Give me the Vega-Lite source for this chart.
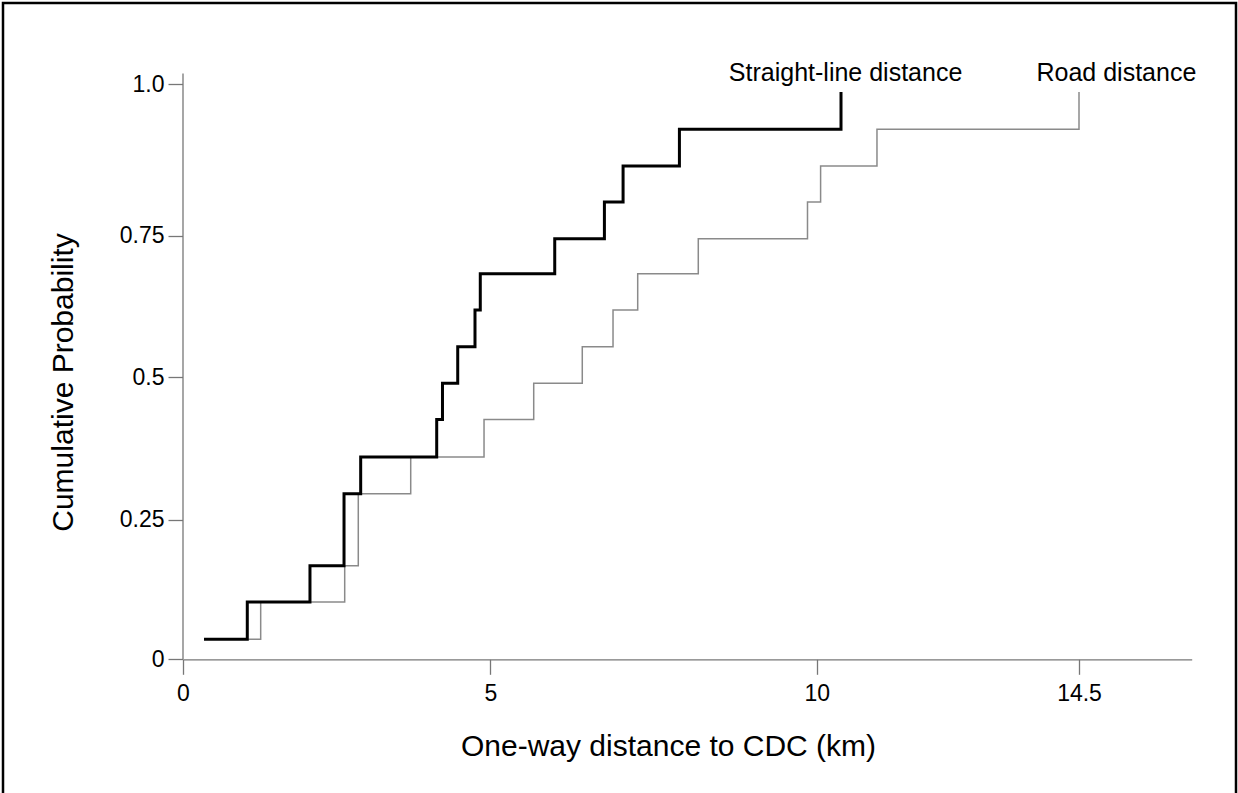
{
  "$schema": "https://vega.github.io/schema/vega-lite/v6.json",
  "width": 1233,
  "height": 800,
  "autosize": {"type": "none"},
  "padding": {"left": 3, "top": 3, "right": 2, "bottom": -10},
  "background": "white",
  "config": {
    "view": {"stroke": "#000", "strokeWidth": 2.5, "fill": "white"},
    "font": "Liberation Sans"
  },
  "data": {
    "values": [
      {"series": "Straight-line distance", "km": 0.342, "p": 0.0358},
      {"series": "Straight-line distance", "km": 1.046, "p": 0.1025},
      {"series": "Straight-line distance", "km": 2.066, "p": 0.1674},
      {"series": "Straight-line distance", "km": 2.620, "p": 0.2954},
      {"series": "Straight-line distance", "km": 2.891, "p": 0.3599},
      {"series": "Straight-line distance", "km": 4.128, "p": 0.4258},
      {"series": "Straight-line distance", "km": 4.222, "p": 0.4895},
      {"series": "Straight-line distance", "km": 4.470, "p": 0.5540},
      {"series": "Straight-line distance", "km": 4.751, "p": 0.6187},
      {"series": "Straight-line distance", "km": 4.837, "p": 0.6827},
      {"series": "Straight-line distance", "km": 5.987, "p": 0.7444},
      {"series": "Straight-line distance", "km": 6.748, "p": 0.8054},
      {"series": "Straight-line distance", "km": 7.034, "p": 0.8649},
      {"series": "Straight-line distance", "km": 7.897, "p": 0.9256},
      {"series": "Straight-line distance", "km": 10.417, "p": 0.9873},
      {"series": "Road distance", "km": 0.342, "p": 0.0358},
      {"series": "Road distance", "km": 1.264, "p": 0.1025},
      {"series": "Road distance", "km": 2.631, "p": 0.1674},
      {"series": "Road distance", "km": 2.852, "p": 0.2954},
      {"series": "Road distance", "km": 3.705, "p": 0.3599},
      {"series": "Road distance", "km": 4.898, "p": 0.4258},
      {"series": "Road distance", "km": 5.665, "p": 0.4895},
      {"series": "Road distance", "km": 6.409, "p": 0.5540},
      {"series": "Road distance", "km": 6.880, "p": 0.6187},
      {"series": "Road distance", "km": 7.258, "p": 0.6827},
      {"series": "Road distance", "km": 8.186, "p": 0.7444},
      {"series": "Road distance", "km": 9.859, "p": 0.8054},
      {"series": "Road distance", "km": 10.067, "p": 0.8649},
      {"series": "Road distance", "km": 11.034, "p": 0.9256},
      {"series": "Road distance", "km": 14.5, "p": 0.9873}
    ]
  },
  "encoding": {
    "x": {
      "field": "km",
      "type": "quantitative",
      "scale": {
        "domain": [0, 5, 10, 14.5, 16.44],
        "range": [180, 487.3, 813.7, 1076, 1188.7],
        "nice": false,
        "zero": false
      },
      "axis": {
        "title": "One-way distance to CDC (km)",
        "orient": "bottom",
        "offset": -143.7,
        "values": [0, 5, 10, 14.5],
        "labelExpr": "datum.value == 14.5 ? '14.5' : '' + round(datum.value)",
        "grid": false,
        "domainColor": "#777",
        "domainWidth": 1.3,
        "tickColor": "#777",
        "tickWidth": 1.3,
        "tickSize": 15,
        "labelPadding": 8,
        "labelFontSize": 23,
        "labelColor": "#000",
        "labelFont": "Liberation Sans",
        "labelFlush": false,
        "labelOverlap": false,
        "titleFont": "Liberation Sans",
        "titleFontSize": 30,
        "titleFontWeight": "normal",
        "titleColor": "#000",
        "titleX": 665,
        "titleY": 96.2,
        "titleBaseline": "alphabetic",
        "titleAlign": "center"
      }
    },
    "y": {
      "field": "p",
      "type": "quantitative",
      "scale": {
        "domain": [0, 0.25, 0.5, 0.75, 1, 1.0187],
        "range": [656.3, 516.5, 374.3, 232.5, 81.3, 70],
        "nice": false,
        "zero": false
      },
      "axis": {
        "title": "Cumulative Probability",
        "orient": "left",
        "offset": -179.5,
        "values": [0, 0.25, 0.5, 0.75, 1],
        "labelExpr": "datum.value == 1 ? '1.0' : datum.value == 0 ? '0' : datum.value == 0.25 ? '0.25' : datum.value == 0.5 ? '0.5' : '0.75'",
        "grid": false,
        "domainColor": "#777",
        "domainWidth": 1.3,
        "tickColor": "#777",
        "tickWidth": 1.3,
        "tickSize": 14.5,
        "labelPadding": 4,
        "labelFontSize": 23,
        "labelColor": "#000",
        "labelFont": "Liberation Sans",
        "labelFlush": false,
        "labelOverlap": false,
        "titleFont": "Liberation Sans",
        "titleFontSize": 30,
        "titleFontWeight": "normal",
        "titleColor": "#000",
        "titleX": -110,
        "titleY": 379,
        "titleAngle": -90,
        "titleBaseline": "alphabetic",
        "titleAlign": "center"
      }
    }
  },
  "layer": [
    {
      "transform": [{"filter": "datum.series == 'Road distance'"}],
      "mark": {"type": "line", "interpolate": "step-after", "stroke": "#8a8a8a", "strokeWidth": 1.5}
    },
    {
      "transform": [{"filter": "datum.series == 'Straight-line distance'"}],
      "mark": {"type": "line", "interpolate": "step-after", "stroke": "#000", "strokeWidth": 3}
    },
    {
      "transform": [{"filter": "datum.series == 'Straight-line distance' && datum.p > 0.98"}],
      "mark": {"type": "text", "align": "center", "baseline": "alphabetic", "dx": 4.6, "dy": -11.3, "fontSize": 25, "font": "Liberation Sans", "fill": "#000"},
      "encoding": {"text": {"field": "series"}}
    },
    {
      "transform": [{"filter": "datum.series == 'Road distance' && datum.p > 0.98"}],
      "mark": {"type": "text", "align": "center", "baseline": "alphabetic", "dx": 37.4, "dy": -11.3, "fontSize": 25, "font": "Liberation Sans", "fill": "#000"},
      "encoding": {"text": {"field": "series"}}
    }
  ]
}
